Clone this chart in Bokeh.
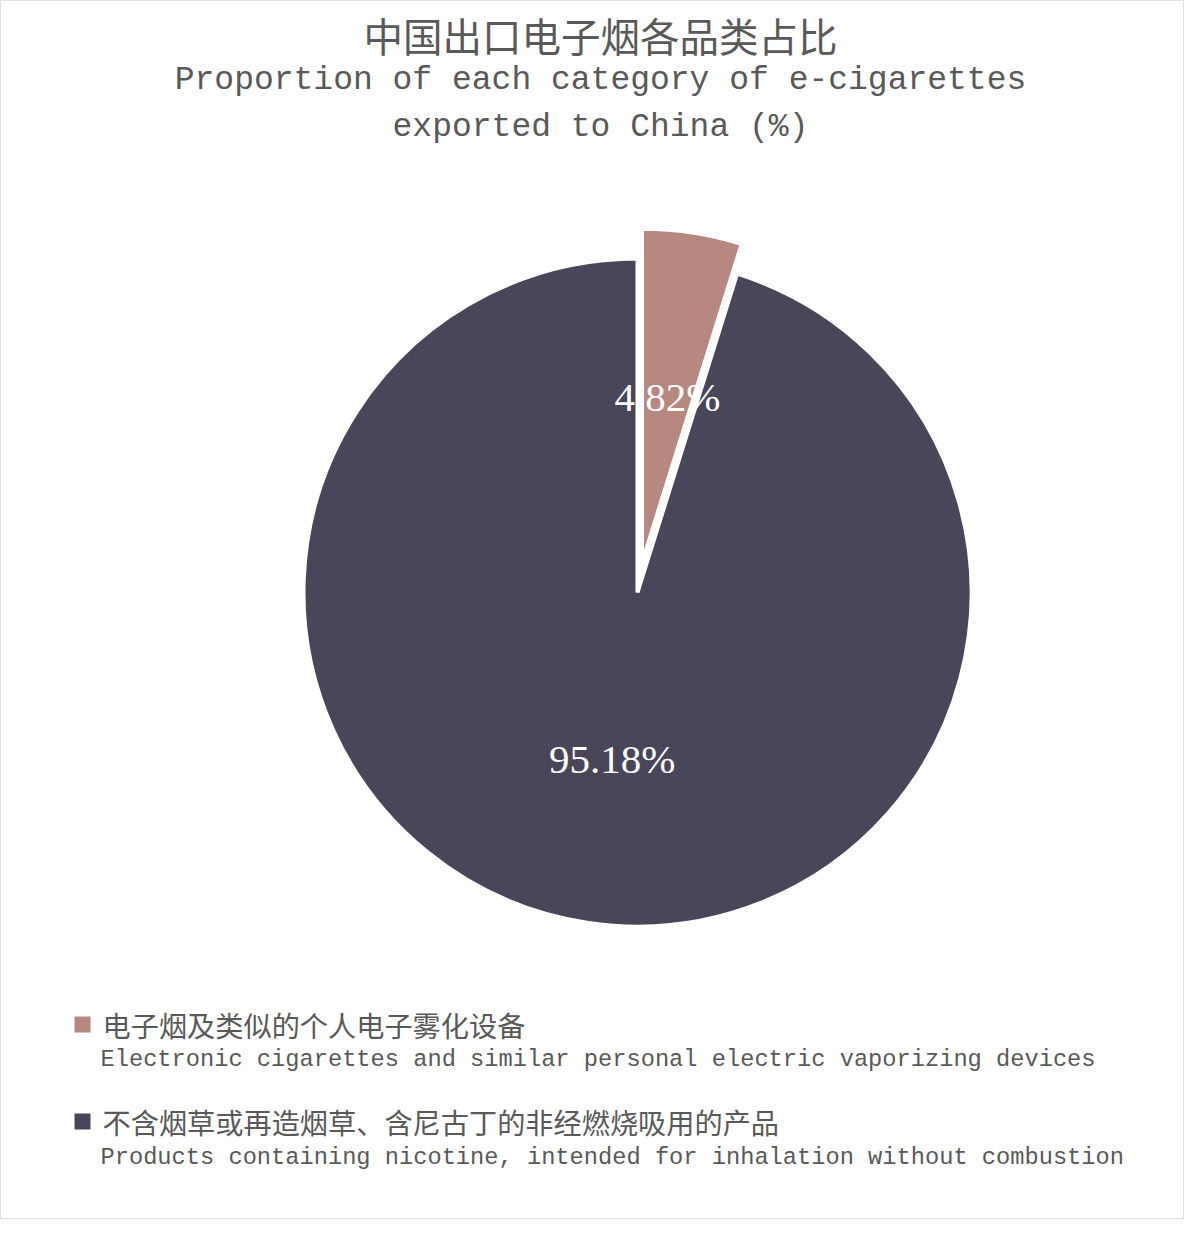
import math
from bokeh.plotting import figure
from bokeh.models import Range1d, ColumnDataSource
from bokeh.core.properties import value
from bokeh.embed import file_html
from bokeh.resources import INLINE

# ---- data ----
title_cn = "中国出口电子烟各品类占比"
title_en = ["Proportion of each category of e-cigarettes", "exported to China (%)"]
categories_cn = ["电子烟及类似的个人电子雾化设备", "不含烟草或再造烟草、含尼古丁的非经燃烧吸用的产品"]
categories_en = ["Electronic cigarettes and similar personal electric vaporizing devices",
                 "Products containing nicotine, intended for inhalation without combustion"]
shares = [4.82, 95.18]

# ---- style ----
palette = ["#b6887f", "#4a465a"]
text_color = "#595959"
W, H = 1184, 1219
CN_FONT = "Noto Sans CJK SC"
EN_FONT = "Liberation Mono"
NUM_FONT = "Liberation Serif"

def Y(ref_y):  # reference pixel y -> data y
    return H - ref_y

def X(ref_x):
    return ref_x

p = figure(width=W, height=H, output_backend="svg", toolbar_location=None,
           x_range=Range1d(0, W), y_range=Range1d(0, H),
           x_axis_location=None, y_axis_location=None, min_border=0)
p.grid.visible = False
p.outline_line_color = "#e0e0e0"
p.background_fill_color = "white"
p.border_fill_color = "white"

# ---- pie ----
cx, cy, R = X(637), Y(592), 334
explode = [30, 0]
label_r = 168
total = sum(shares)
starts, ends, xs, ys, lx, ly, labels = [], [], [], [], [], [], []
acc = 0.0
for i, v in enumerate(shares):
    a0 = math.pi / 2 - 2 * math.pi * acc / total
    acc += v
    a1 = math.pi / 2 - 2 * math.pi * acc / total
    mid = (a0 + a1) / 2
    ox = cx + explode[i] * math.cos(mid)
    oy = cy + explode[i] * math.sin(mid)
    starts.append(a0); ends.append(a1)
    xs.append(ox); ys.append(oy)
    lx.append(ox + label_r * math.cos(mid)); ly.append(oy + label_r * math.sin(mid))
    labels.append(f"{v:.2f}%")

src = ColumnDataSource(dict(x=xs, y=ys, start=starts, end=ends, color=palette,
                            lx=lx, ly=ly, label=labels))
p.wedge(x="x", y="y", radius=R, start_angle="start", end_angle="end", direction="clock",
        fill_color="color", line_color="white", line_width=4, source=src)
p.text(x="lx", y="ly", text="label", source=src, text_color="white",
       text_font=value(NUM_FONT), text_font_size=value("41px"),
       text_align="center", text_baseline="middle")

# ---- titles ----
p.text(x=[X(600)], y=[Y(34)], text=[title_cn], text_color=text_color,
       text_font=value(CN_FONT), text_font_size=value("39.5px"),
       text_align="center", text_baseline="middle")
p.text(x=[X(600), X(600)], y=[Y(80), Y(127)], text=title_en, text_color=text_color,
       text_font=value(EN_FONT), text_font_size=value("33px"),
       text_align="center", text_baseline="middle")

# ---- legend ----
sq_y = [Y(1024), Y(1121)]
cn_y = [Y(1024), Y(1121)]
en_y = [Y(1059), Y(1157)]
p.rect(x=[X(82)] * 2, y=sq_y, width=16, height=16, fill_color=palette, line_color=None)
p.text(x=[X(102)] * 2, y=cn_y, text=categories_cn, text_color=text_color,
       text_font=value(CN_FONT), text_font_size=value("28.2px"),
       text_align="left", text_baseline="middle")
p.text(x=[X(100)] * 2, y=en_y, text=categories_en, text_color=text_color,
       text_font=value(EN_FONT), text_font_size=value("23.7px"),
       text_align="left", text_baseline="middle")

open("out.html", "w").write(file_html(p, INLINE))
